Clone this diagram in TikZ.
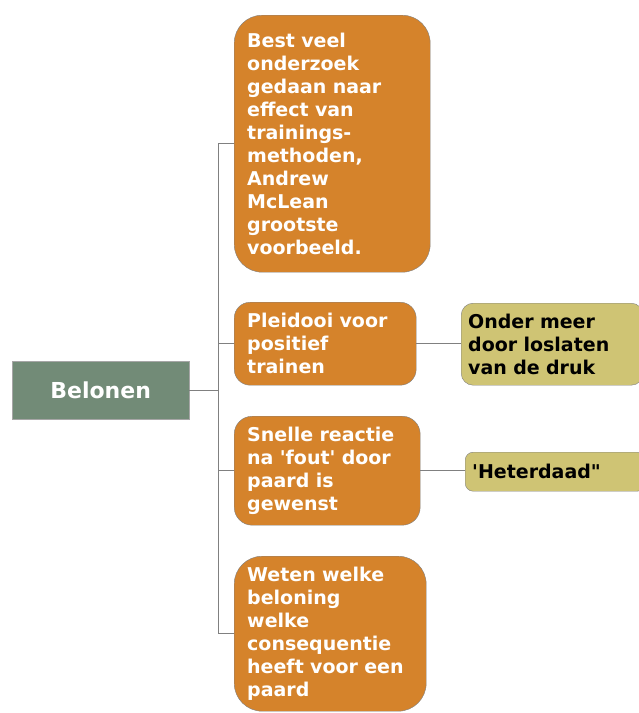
\documentclass[tikz,border=0pt]{standalone}
\usepackage{fontspec}
\newfontfamily\verdana{DejaVu Sans}
\usetikzlibrary{calc}

\definecolor{oranje}{HTML}{D5832B}
\definecolor{grijsgroen}{HTML}{728B77}
\definecolor{kaki}{HTML}{CFC474}
\definecolor{lijn}{HTML}{808080}

\tikzset{
  tak/.style={draw=lijn, fill=oranje, text=white, rounded corners=28pt, anchor=north west,
    align=left, inner xsep=13pt, font=\verdana\fontsize{19}{23}\selectfont\bfseries},
  blad/.style={draw=lijn, fill=kaki, text=black, rounded corners=12pt, anchor=north west,
    align=left, inner xsep=7pt, font=\verdana\fontsize{19}{23}\selectfont\bfseries},
  verbind/.style={draw=lijn, line width=0.9pt}
}

\begin{document}
\begin{tikzpicture}[x=1pt,y=-1pt]
\useasboundingbox (0,0) rectangle (639,713);
\node[draw=lijn!70, fill=grijsgroen, text=white, anchor=north west, minimum width=177pt, minimum height=58pt,
  font=\verdana\fontsize{22}{26}\selectfont\bfseries] (belonen) at (12,361) {Belonen};
% takken
\node[tak, minimum width=196pt, minimum height=257pt, text width=170pt] (b1) at (234,15)
  {Best veel\\onderzoek\\gedaan naar\\effect van\\trainings-\\methoden,\\Andrew\\McLean\\grootste\\voorbeeld.};
\node[tak, rounded corners=16pt, minimum width=182pt, minimum height=83pt, text width=156pt] (b2) at (234,302)
  {Pleidooi voor\\positief\\trainen};
\node[tak, rounded corners=18pt, minimum width=186pt, minimum height=109pt, text width=160pt] (b3) at (234,416)
  {Snelle reactie\\na 'fout' door\\paard is\\gewenst};
\node[tak, minimum width=192pt, minimum height=155pt, text width=166pt] (b4) at (234,556)
  {Weten welke\\beloning\\welke\\consequentie\\heeft voor een\\paard};
% bladeren
\node[blad, minimum width=182pt, minimum height=82pt, text width=168pt] (l1) at (461,303)
  {Onder meer\\door loslaten\\van de druk};
\node[blad, rounded corners=8pt, minimum width=180pt, minimum height=39pt, text width=166pt] (l2) at (465,452)
  {'Heterdaad"};
% verbindingen
\coordinate (stam) at (218,0);
\draw[verbind] (belonen.east) -- (stam |- belonen.east);
\draw[verbind] (stam |- b1.west) -- (stam |- b4.west);
\foreach \b in {b1,b2,b3,b4}
  \draw[verbind] (stam |- \b.west) -- (\b.west);
\draw[verbind] (b2.east) -- (b2.east -| l1.west);
\draw[verbind] (b3.east) -- (b3.east -| l2.west);
\end{tikzpicture}
\end{document}
